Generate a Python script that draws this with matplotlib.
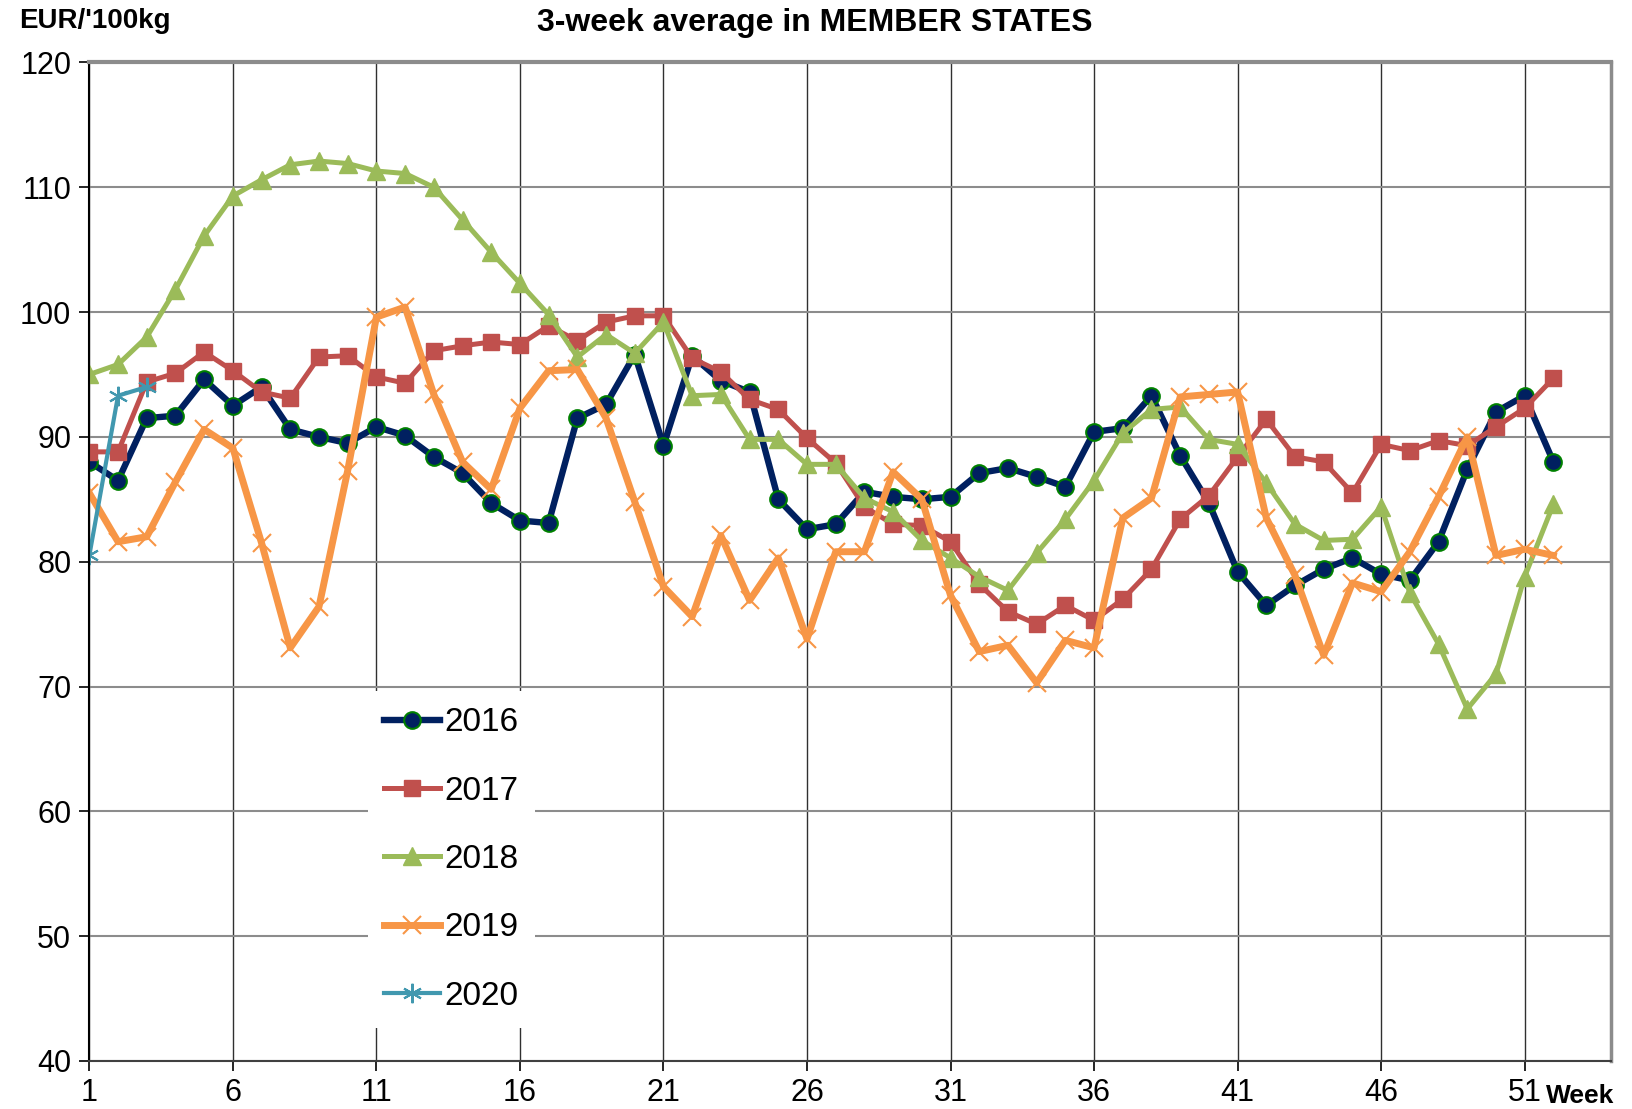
import numpy as np
import matplotlib
matplotlib.use("Agg")
import matplotlib.pyplot as plt

plt.rcParams['font.family'] = ['Liberation Sans', 'DejaVu Sans']

# weekly prices, EUR/100kg (3-week average, member states)
weeks = np.arange(1, 53)
p2016 = [88.0, 86.5, 91.5, 91.7, 94.6, 92.5, 94.0, 90.6, 90.0, 89.5,
         90.8, 90.1, 88.4, 87.1, 84.7, 83.3, 83.1, 91.5, 92.6, 96.6,
         89.3, 96.5, 94.5, 93.6, 85.0, 82.6, 83.0, 85.6, 85.2, 85.0,
         85.2, 87.1, 87.5, 86.8, 86.0, 90.4, 90.7, 93.3, 88.5, 84.7,
         79.2, 76.5, 78.1, 79.4, 80.3, 79.0, 78.5, 81.6, 87.4, 92.0,
         93.3, 88.0]
p2017 = [88.8, 88.8, 94.4, 95.1, 96.8, 95.3, 93.6, 93.1, 96.4, 96.5,
         94.8, 94.3, 96.9, 97.3, 97.6, 97.4, 98.9, 97.7, 99.2, 99.7,
         99.7, 96.3, 95.2, 93.0, 92.2, 89.9, 87.9, 84.4, 83.0, 82.9,
         81.6, 78.2, 76.0, 75.0, 76.5, 75.3, 77.0, 79.4, 83.4, 85.3,
         88.4, 91.4, 88.4, 88.0, 85.5, 89.4, 88.9, 89.7, 89.3, 90.8,
         92.3, 94.7]
p2018 = [95.0, 95.8, 98.0, 101.8, 106.1, 109.3, 110.6, 111.8, 112.1, 111.9,
         111.3, 111.1, 110.0, 107.4, 104.8, 102.3, 99.8, 96.4, 98.2, 96.7,
         99.2, 93.3, 93.4, 89.8, 89.8, 87.8, 87.8, 85.1, 84.0, 81.7,
         80.3, 78.8, 77.7, 80.7, 83.4, 86.5, 90.3, 92.2, 92.4, 89.8,
         89.4, 86.3, 83.0, 81.7, 81.8, 84.4, 77.5, 73.4, 68.2, 71.0,
         78.8, 84.6]
p2019 = [85.5, 81.6, 82.0, 86.4, 90.6, 89.1, 81.5, 73.1, 76.4, 87.3,
         99.6, 100.4, 93.4, 88.0, 85.8, 92.3, 95.3, 95.4, 91.5, 84.8,
         78.0, 75.6, 82.1, 76.9, 80.3, 73.8, 80.8, 80.8, 87.2, 85.0,
         77.3, 72.8, 73.3, 70.3, 73.7, 73.1, 83.5, 85.1, 93.2, 93.4,
         93.6, 83.5, 78.9, 72.5, 78.3, 77.6, 80.8, 85.2, 90.0, 80.5,
         81.0, 80.5]
weeks_2020 = [1, 2, 3]
p2020 = [80.5, 93.3, 94.0]

xticks = [1, 6, 11, 16, 21, 26, 31, 36, 41, 46, 51]

fig = plt.figure(figsize=(16.33, 11.09), dpi=100)
ax = fig.add_axes([0.0547, 0.0433, 0.9317, 0.9004])

ax.plot(weeks, p2016, '-o', color='#002060', lw=4.6, ms=12,
        mfc='#002060', mec='#008000', mew=1.5, label='2016')
ax.plot(weeks, p2017, '-s', color='#C0504D', lw=3.6, ms=11.5,
        label='2017')
ax.plot(weeks, p2018, '-^', color='#9BBB59', lw=3.6, ms=13,
        label='2018')
ax.plot(weeks, p2019, '-x', color='#F79646', lw=5, ms=13, mew=1.5,
        label='2019')
ax.plot(weeks_2020, p2020, '-', marker=(6, 2, 0), color='#4198AF', lw=3,
        ms=14, mew=1.5, label='2020')

ax.set_xlim(1, 54)
ax.set_ylim(40, 120)
ax.set_xticks(xticks)
ax.set_yticks(np.arange(40, 121, 10))
ax.tick_params(axis='both', labelsize=22, length=7, direction='out', width=1.2)
ax.tick_params(axis='x', pad=5)
ax.tick_params(axis='y', pad=6)

ax.grid(axis='y', color='#8c8c8c', lw=1.5)
ax.grid(axis='x', color='#303030', lw=1.0)
ax.set_axisbelow(True)

ax.spines['left'].set_color('black')
ax.spines['left'].set_linewidth(1.5)
ax.spines['bottom'].set_color('#404040')
ax.spines['bottom'].set_linewidth(1.5)
ax.spines['top'].set_color('#8c8c8c')
ax.spines['top'].set_linewidth(3)
ax.spines['right'].set_color('#8c8c8c')
ax.spines['right'].set_linewidth(2.5)

leg = ax.legend(loc='upper left', bbox_to_anchor=(0.183, 0.371),
                borderaxespad=0, fontsize=24, handlelength=1.68,
                handletextpad=0.12, labelspacing=1.12, frameon=True,
                fancybox=False, borderpad=0.5)
leg.get_frame().set_facecolor('white')
leg.get_frame().set_edgecolor('none')
leg.get_frame().set_alpha(1)

fig.text(0.499, 0.979, "3-week average in MEMBER STATES", ha='center',
         va='center', fontsize=23, fontweight='bold')
fig.text(0.012, 0.981, "EUR/'100kg", ha='left', va='center',
         fontsize=20, fontweight='bold')
fig.text(0.947, 0.0117, "Week", ha='left', va='center', fontsize=19,
         fontweight='bold')

fig.savefig('out.png', dpi=100)
